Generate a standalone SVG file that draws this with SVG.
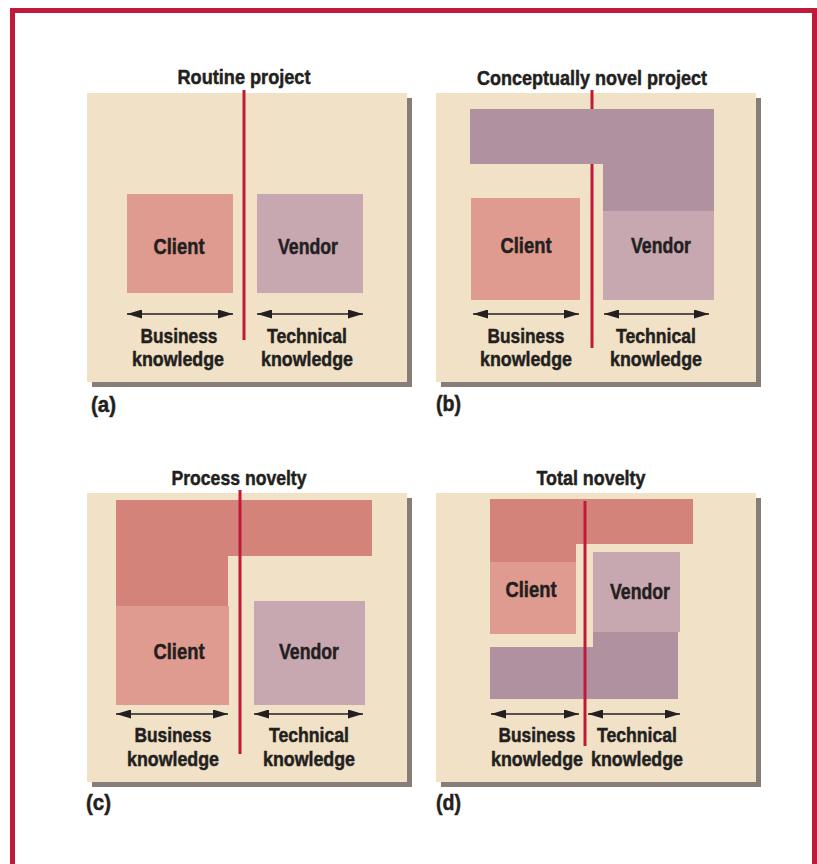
<svg xmlns="http://www.w3.org/2000/svg" width="817" height="864" viewBox="0 0 817 864">
  <defs>
    <style>
      .frame { fill: none; stroke: #bf1a3a; stroke-width: 5; }
      .panel { fill: #f1e1c6; }
      .shadow { fill: #877e7a; }
      .client { fill: #df9b8f; }
      .client-ext { fill: #d4837a; }
      .vendor { fill: #c8a8b0; }
      .vendor-ext { fill: #b0919f; }
      .divider { stroke: #bf1a3a; stroke-width: 3; fill: none; }
      .span { stroke: #231f20; stroke-width: 1.3; fill: none; marker-start: url(#head); marker-end: url(#head); }
      text { font-family: "Liberation Sans", Arial, sans-serif; font-weight: bold; fill: #231f20; stroke: #231f20; stroke-width: 0.5; font-size: 21px; text-anchor: middle; }
      .name { font-size: 22px; }
      .tag { text-anchor: start; font-size: 22px; }
    </style>
    <marker id="head" markerUnits="userSpaceOnUse" markerWidth="16" markerHeight="9" refX="15" refY="4.5" orient="auto-start-reverse">
      <path d="M0,0 L15,4.5 L0,9 Z" fill="#231f20"/>
    </marker>
  </defs>

  <rect x="0" y="0" width="817" height="864" fill="#ffffff"/>
  <rect class="frame" x="12.5" y="10.5" width="802" height="900"/>

  <!-- (a) Routine project -->
  <g id="panel-a">
    <rect class="shadow" x="92" y="98" width="320" height="289"/>
    <rect class="panel" x="87" y="93" width="320" height="289"/>
    <text x="244" y="84" textLength="133" lengthAdjust="spacingAndGlyphs">Routine project</text>
    <g id="a-client">
      <rect class="client" x="127" y="194" width="106" height="99"/>
      <text class="name" x="179" y="254" textLength="51" lengthAdjust="spacingAndGlyphs">Client</text>
    </g>
    <g id="a-vendor">
      <rect class="vendor" x="257" y="194" width="106" height="99"/>
      <text class="name" x="308" y="254" textLength="60" lengthAdjust="spacingAndGlyphs">Vendor</text>
    </g>
    <line class="divider" x1="244" y1="90" x2="244" y2="340"/>
    <g id="a-business">
      <text x="179" y="343" textLength="77" lengthAdjust="spacingAndGlyphs">Business</text>
      <text x="178" y="366" textLength="92" lengthAdjust="spacingAndGlyphs">knowledge</text>
    </g>
    <g id="a-technical">
      <text x="307" y="343" textLength="80" lengthAdjust="spacingAndGlyphs">Technical</text>
      <text x="307" y="366" textLength="92" lengthAdjust="spacingAndGlyphs">knowledge</text>
    </g>
    <text class="tag" x="91" y="412" textLength="25" lengthAdjust="spacingAndGlyphs">(a)</text>
  </g>

  <!-- (b) Conceptually novel project -->
  <g id="panel-b">
    <rect class="shadow" x="441" y="98" width="320" height="289"/>
    <rect class="panel" x="436" y="93" width="320" height="289"/>
    <text x="592" y="85" textLength="230" lengthAdjust="spacingAndGlyphs">Conceptually novel project</text>
    <line class="divider" x1="592" y1="90" x2="592" y2="348"/>
    <g id="b-client">
      <rect class="client" x="471" y="198" width="109" height="102"/>
      <text class="name" x="526" y="253" textLength="51" lengthAdjust="spacingAndGlyphs">Client</text>
    </g>
    <g id="b-vendor">
      <path class="vendor-ext" d="M470,109 H714 V211 H603 V164 H470 Z"/>
      <rect class="vendor" x="603" y="211" width="111" height="89"/>
      <text class="name" x="661" y="253" textLength="60" lengthAdjust="spacingAndGlyphs">Vendor</text>
    </g>
    <g id="b-business">
      <text x="526" y="343" textLength="77" lengthAdjust="spacingAndGlyphs">Business</text>
      <text x="526" y="366" textLength="92" lengthAdjust="spacingAndGlyphs">knowledge</text>
    </g>
    <g id="b-technical">
      <text x="656" y="343" textLength="80" lengthAdjust="spacingAndGlyphs">Technical</text>
      <text x="656" y="366" textLength="92" lengthAdjust="spacingAndGlyphs">knowledge</text>
    </g>
    <text class="tag" x="436" y="411" textLength="25" lengthAdjust="spacingAndGlyphs">(b)</text>
  </g>

  <!-- (c) Process novelty -->
  <g id="panel-c">
    <rect class="shadow" x="92" y="498" width="320" height="289"/>
    <rect class="panel" x="87" y="493" width="320" height="289"/>
    <text x="239" y="485" textLength="135" lengthAdjust="spacingAndGlyphs">Process novelty</text>
    <g id="c-client">
      <path class="client-ext" d="M116,500 H372 V556 H228 V606 H116 Z"/>
      <rect class="client" x="116" y="606" width="113" height="99"/>
      <text class="name" x="179" y="659" textLength="51" lengthAdjust="spacingAndGlyphs">Client</text>
    </g>
    <g id="c-vendor">
      <rect class="vendor" x="254" y="601" width="111" height="104"/>
      <text class="name" x="309" y="659" textLength="60" lengthAdjust="spacingAndGlyphs">Vendor</text>
    </g>
    <line class="divider" x1="240" y1="490" x2="240" y2="754"/>
    <g id="c-business">
      <text x="173" y="742" textLength="77" lengthAdjust="spacingAndGlyphs">Business</text>
      <text x="173" y="766" textLength="92" lengthAdjust="spacingAndGlyphs">knowledge</text>
    </g>
    <g id="c-technical">
      <text x="309" y="742" textLength="80" lengthAdjust="spacingAndGlyphs">Technical</text>
      <text x="309" y="766" textLength="92" lengthAdjust="spacingAndGlyphs">knowledge</text>
    </g>
    <text class="tag" x="86" y="810" textLength="25" lengthAdjust="spacingAndGlyphs">(c)</text>
  </g>

  <!-- (d) Total novelty -->
  <g id="panel-d">
    <rect class="shadow" x="441" y="498" width="320" height="289"/>
    <rect class="panel" x="436" y="493" width="320" height="289"/>
    <text x="591" y="485" textLength="109" lengthAdjust="spacingAndGlyphs">Total novelty</text>
    <g id="d-client">
      <path class="client-ext" d="M490,499 H693 V544 H576 V562 H490 Z"/>
      <rect class="client" x="490" y="562" width="86" height="72"/>
      <text class="name" x="531" y="597" textLength="51" lengthAdjust="spacingAndGlyphs">Client</text>
    </g>
    <g id="d-vendor">
      <rect class="vendor" x="593" y="552" width="87" height="80"/>
      <path class="vendor-ext" d="M593,632 H678 V699 H490 V647 H593 Z"/>
      <text class="name" x="640" y="599" textLength="60" lengthAdjust="spacingAndGlyphs">Vendor</text>
    </g>
    <line class="divider" x1="585" y1="501" x2="585" y2="746"/>
    <g id="d-business">
      <text x="537" y="742" textLength="77" lengthAdjust="spacingAndGlyphs">Business</text>
      <text x="537" y="766" textLength="92" lengthAdjust="spacingAndGlyphs">knowledge</text>
    </g>
    <g id="d-technical">
      <text x="637" y="742" textLength="80" lengthAdjust="spacingAndGlyphs">Technical</text>
      <text x="637" y="766" textLength="92" lengthAdjust="spacingAndGlyphs">knowledge</text>
    </g>
    <text class="tag" x="436" y="810" textLength="25" lengthAdjust="spacingAndGlyphs">(d)</text>
  </g>

  <!-- knowledge span arrows -->
  <g id="connectors">
    <line class="span" x1="127" y1="314" x2="233" y2="314"/>
    <line class="span" x1="257" y1="314" x2="363" y2="314"/>
    <line class="span" x1="473" y1="314" x2="579" y2="314"/>
    <line class="span" x1="604" y1="314" x2="709" y2="314"/>
    <line class="span" x1="116" y1="714" x2="228" y2="714"/>
    <line class="span" x1="254" y1="714" x2="363" y2="714"/>
    <line class="span" x1="491" y1="714" x2="579" y2="714"/>
    <line class="span" x1="588" y1="714" x2="680" y2="714"/>
  </g>
</svg>
